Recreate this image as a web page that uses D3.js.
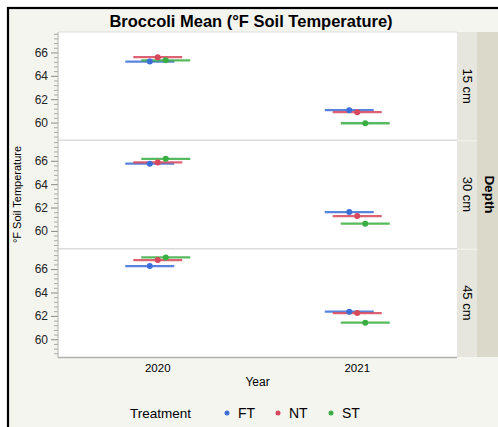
<!DOCTYPE html>
<html>
<head>
<meta charset="utf-8">
<script src="https://cdn.jsdelivr.net/npm/d3@7"></script>
<style>
  body { margin: 0; background: #fff; }
  svg { display: block; font-family: "Liberation Sans", Arial, sans-serif; }
</style>
</head>
<body>
<svg id="chart" width="498" height="427"></svg>
<script>
// data
const years = ['2020', '2021'];
const depths = ['15 cm', '30 cm', '45 cm'];
const treatments = ['FT', 'NT', 'ST'];
const colors = ['#3d6fd8', '#d8485c', '#3bae43'];

// mean temps per treatment = [2020, 2021]
const means15 = { FT: [65.22, 61.06], NT: [65.6, 60.89], ST: [65.33, 59.94] };
const means30 = { FT: [65.75, 61.61], NT: [65.86, 61.27], ST: [66.17, 60.62] };
const means45 = { FT: [66.26, 62.36], NT: [66.77, 62.24], ST: [67.0, 61.42] };
const yTicks = [60, 62, 64, 66];

const meansByDepth = [means15, means30, means45];

const svg = d3.select('#chart');
const W = 498, H = 427;

// outer frame
svg.append('rect').attr('width', W).attr('height', H).attr('fill', '#fff');
svg.append('rect')
  .attr('x', 8).attr('y', 8).attr('width', W + 10).attr('height', H + 10)
  .attr('fill', '#f5f5f0').attr('stroke', '#000').attr('stroke-width', 2.2);

svg.append('text')
  .attr('x', 251).attr('y', 27)
  .attr('text-anchor', 'middle')
  .style('font-size', '16.5px').style('font-weight', 'bold')
  .text('Broccoli Mean (°F Soil Temperature)');

const plotL = 58, plotR = 457, plotT = 32, plotB = 357;
const panelH = (plotB - plotT) / depths.length;

const x = d3.scaleBand().domain(years).range([plotL, plotR]);
const xOff = d3.scalePoint().domain(treatments).range([-8, 8]);
const halfLen = 24.5;

svg.append('rect')
  .attr('x', plotL).attr('y', plotT)
  .attr('width', plotR - plotL).attr('height', plotB - plotT)
  .attr('fill', '#fff');

// outer strip "Depth"
svg.append('rect')
  .attr('x', plotR + 20).attr('y', plotT)
  .attr('width', 30).attr('height', plotB - plotT)
  .attr('fill', '#dad9ca');
svg.append('text')
  .attr('transform', `translate(${plotR + 28},${(plotT + plotB) / 2}) rotate(90)`)
  .attr('text-anchor', 'middle')
  .style('font-size', '13.5px').style('font-weight', 'bold')
  .text('Depth');

depths.forEach((depth, i) => {
  const py0 = plotT + i * panelH;
  const y = d3.scaleLinear().domain([58.48, 67.75]).range([py0 + panelH, py0]);

  // strip
  svg.append('rect')
    .attr('x', plotR).attr('y', py0 + (i ? 1 : 0))
    .attr('width', 20).attr('height', panelH - (i ? 1 : 0))
    .attr('fill', '#e6e6df');
  svg.append('text')
    .attr('transform', `translate(${plotR + 6},${py0 + panelH / 2}) rotate(90)`)
    .attr('text-anchor', 'middle')
    .style('font-size', '13px')
    .text(depth);

  // panel separator
  if (i > 0) {
    svg.append('line')
      .attr('x1', plotL).attr('x2', plotR)
      .attr('y1', py0).attr('y2', py0)
      .attr('stroke', '#dcdcdc').attr('stroke-width', 1.5);
  }

  // y axis, major + minor ticks
  const minor = d3.range(58.8, 67.75, 0.4).filter(v => Math.abs(v / 2 - Math.round(v / 2)) > 0.01);
  const gMinor = svg.append('g')
    .attr('transform', `translate(${plotL},0)`)
    .call(d3.axisLeft(y).tickValues(minor).tickSize(4).tickFormat(''));
  gMinor.select('.domain').remove();
  gMinor.selectAll('line').attr('stroke', '#a8a8a8');

  const gAxis = svg.append('g')
    .attr('transform', `translate(${plotL},0)`)
    .call(d3.axisLeft(y).tickValues(yTicks).tickSize(7).tickPadding(3));
  gAxis.select('.domain').remove();
  gAxis.selectAll('line').attr('stroke', '#888');
  gAxis.selectAll('text')
    .style('font-size', '12px')
    .style('font-family', '"Liberation Sans", Arial, sans-serif')
    .attr('fill', '#222');

  // mean marks
  const rows = [];
  treatments.forEach((t, k) => {
    years.forEach((yr, j) => {
      rows.push({ t, k, yr, v: meansByDepth[i][t][j] });
    });
  });

  const g = svg.append('g');
  g.selectAll('line.mean')
    .data(rows)
    .join('line')
    .attr('class', 'mean')
    .attr('x1', d => x(d.yr) + x.bandwidth() / 2 + xOff(d.t) - halfLen)
    .attr('x2', d => x(d.yr) + x.bandwidth() / 2 + xOff(d.t) + halfLen)
    .attr('y1', d => y(d.v)).attr('y2', d => y(d.v))
    .attr('stroke', d => colors[d.k])
    .attr('stroke-width', 2.3)
    .attr('opacity', 0.85);
  g.selectAll('circle')
    .data(rows)
    .join('circle')
    .attr('cx', d => x(d.yr) + x.bandwidth() / 2 + xOff(d.t))
    .attr('cy', d => y(d.v))
    .attr('r', 3)
    .attr('fill', d => colors[d.k]);
});

// plot frame lines
svg.append('line')
  .attr('x1', plotL).attr('x2', plotL).attr('y1', plotT).attr('y2', plotB + 1)
  .attr('stroke', '#b0b0b0').attr('stroke-width', 1);
svg.append('line')
  .attr('x1', plotL).attr('x2', plotR).attr('y1', plotB + 0.5).attr('y2', plotB + 0.5)
  .attr('stroke', '#b0b0b0').attr('stroke-width', 1.5);
svg.append('line')
  .attr('x1', plotL).attr('x2', plotR).attr('y1', plotT).attr('y2', plotT)
  .attr('stroke', '#dcdcdc').attr('stroke-width', 1);

// x axis labels
svg.append('g')
  .selectAll('text')
  .data(years)
  .join('text')
  .attr('x', d => x(d) + x.bandwidth() / 2)
  .attr('y', 372)
  .attr('text-anchor', 'middle')
  .style('font-size', '11.5px')
  .text(d => d);

svg.append('text')
  .attr('x', (plotL + plotR) / 2).attr('y', 386)
  .attr('text-anchor', 'middle')
  .style('font-size', '12px')
  .text('Year');

svg.append('text')
  .attr('transform', `translate(21,${(plotT + plotB) / 2}) rotate(-90)`)
  .attr('text-anchor', 'middle')
  .style('font-size', '11px')
  .text('°F Soil Temperature');

// legend
const legendX = [227, 278, 331];
svg.append('text')
  .attr('x', 130).attr('y', 418)
  .style('font-size', '13.5px')
  .text('Treatment');
const lg = svg.append('g')
  .selectAll('g')
  .data(treatments)
  .join('g')
  .attr('transform', (d, i) => `translate(${legendX[i]},413)`);
lg.append('circle').attr('r', 2.5).attr('fill', (d, i) => colors[i]);
lg.append('text')
  .attr('x', 11).attr('y', 5)
  .style('font-size', '14px')
  .text(d => d);
</script>
</body>
</html>
